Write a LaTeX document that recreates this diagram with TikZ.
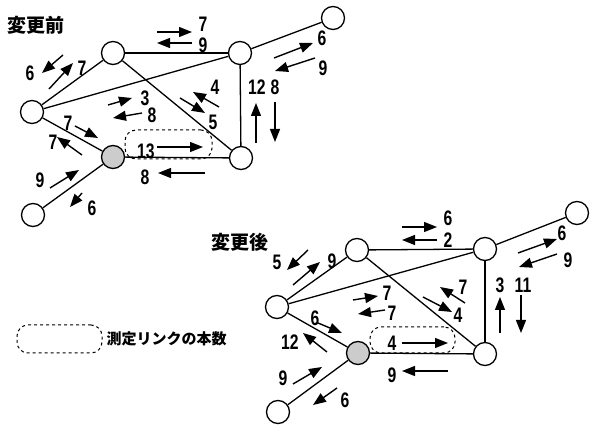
\documentclass[tikz,border=0pt]{standalone}
\usepackage{fontspec}
\setmainfont{Liberation Sans}[FakeStretch=0.75]
\newfontfamily\jpfont{Noto Sans CJK JP}
\usetikzlibrary{arrows.meta,positioning}

\begin{document}
\begin{tikzpicture}[
    x=1pt, y=-1pt,
    station/.style={circle, draw, fill=white, line width=1.3pt, minimum size=23pt, inner sep=0pt},
    source/.style={station, fill=gray!40},
    link/.style={line width=1.3pt},
    flow/.style={-{Triangle[length=13pt,width=10pt]}, line width=1.4pt},
    num/.style={font=\fontsize{21}{21}\selectfont\bfseries, inner sep=0pt},
    title/.style={font=\fontsize{19}{19}\selectfont\jpfont\bfseries, inner sep=0pt},
    measbox/.style={draw, dashed, line width=1pt, rounded corners=11pt}
]
    \useasboundingbox (0,0) rectangle (590,427);

    % before the change
    \node (tbefore) [title] at (36,25) {変更前};

    \node (meas1) [measbox, minimum width=87pt, minimum height=29pt] at (168.5,144.5) {};

    \node (a1) [station] at (113,53) {};
    \node (b1) [station] at (240,53) {};
    \node (c1) [station] at (333,18) {};
    \node (d1) [station] at (32,112) {};
    \node (e1) [source] at (113,157) {};
    \node (f1) [station] at (241,158) {};
    \node (g1) [station] at (33,215) {};

    \draw [link] (a1) -- (b1);
    \draw [link] (a1) -- (d1);
    \draw [link] (a1) -- (f1);
    \draw [link] (d1) -- (b1);
    \draw [link] (d1) -- (e1);
    \draw [link] (e1) -- (f1);
    \draw [link] (e1) -- (g1);
    \draw [link] (b1) -- (c1);
    \draw [link] (b1) -- (f1);

    % link counts
    \draw [flow] (157,32) -- (192,32);   \node (n1) [num] at (203,24) {7};
    \draw [flow] (192,43) -- (157,43);   \node (n2) [num] at (203,45) {9};
    \draw [flow] (63,55) -- (42,73);     \node (n3) [num] at (30,73) {6};
    \draw [flow] (49,89) -- (73,63);     \node (n4) [num] at (82,68) {7};
    \draw [flow] (108,105) -- (132,98);  \node (n5) [num] at (145,98) {3};
    \draw [flow] (142,113) -- (113,118); \node (n6) [num] at (152,115) {8};
    \draw [flow] (75,126) -- (98,138);   \node (n7) [num] at (68,123) {7};
    \draw [flow] (82,155) -- (57,137);   \node (n8) [num] at (53,142) {7};
    \draw [flow] (157,147) -- (203,147); \node (n9) [num] at (146,151) {13};
    \draw [flow] (205,173) -- (158,173); \node (n10) [num] at (145,177) {8};
    \draw [flow] (50,188) -- (79,170);   \node (n11) [num] at (40,180) {9};
    \draw [flow] (82,193) -- (70,207);   \node (n12) [num] at (92,208) {6};
    \draw [flow] (219,107) -- (193,92);  \node (n13) [num] at (215,87) {4};
    \draw [flow] (180,98) -- (205,113);  \node (n14) [num] at (213,122) {5};
    \draw [flow] (256,143) -- (256,103); \node (n15) [num] at (257,87) {12};
    \draw [flow] (275,102) -- (275,142); \node (n16) [num] at (275,87) {8};
    \draw [flow] (274,58) -- (313,43);   \node (n17) [num] at (322,38) {6};
    \draw [flow] (315,58) -- (275,71);   \node (n18) [num] at (323,68) {9};

    % after the change
    \node (tafter) [title] at (240,242) {変更後};

    \node (meas2) [measbox, minimum width=85pt, minimum height=26pt] at (412.5,340) {};

    \node (a2) [station] at (357,250) {};
    \node (b2) [station] at (485,249) {};
    \node (c2) [station] at (577,213) {};
    \node (d2) [station] at (277,307) {};
    \node (e2) [source] at (358,353) {};
    \node (f2) [station] at (485,354) {};
    \node (g2) [station] at (278,412) {};

    \draw [link] (a2) -- (b2);
    \draw [link] (a2) -- (d2);
    \draw [link] (a2) -- (f2);
    \draw [link] (d2) -- (b2);
    \draw [link] (d2) -- (e2);
    \draw [link] (e2) -- (f2);
    \draw [link] (e2) -- (g2);
    \draw [link] (b2) -- (c2);
    \draw [link] (b2) -- (f2);

    % link counts
    \draw [flow] (402,227) -- (437,227); \node (m1) [num] at (448,218) {6};
    \draw [flow] (437,240) -- (402,240); \node (m2) [num] at (448,240) {2};
    \draw [flow] (308,250) -- (287,270); \node (m3) [num] at (277,262) {5};
    \draw [flow] (293,285) -- (320,262); \node (m4) [num] at (332,261) {9};
    \draw [flow] (353,300) -- (378,296); \node (m5) [num] at (387,293) {7};
    \draw [flow] (385,310) -- (358,314); \node (m6) [num] at (392,313) {7};
    \draw [flow] (318,323) -- (342,333); \node (m7) [num] at (315,318) {6};
    \draw [flow] (327,352) -- (303,333); \node (m8) [num] at (290,342) {12};
    \draw [flow] (402,343) -- (448,343); \node (m9) [num] at (392,343) {4};
    \draw [flow] (448,371) -- (402,371); \node (m10) [num] at (392,375) {9};
    \draw [flow] (293,384) -- (322,367); \node (m11) [num] at (283,378) {9};
    \draw [flow] (337,388) -- (313,405); \node (m12) [num] at (345,400) {6};
    \draw [flow] (465,303) -- (440,287); \node (m13) [num] at (463,287) {7};
    \draw [flow] (423,297) -- (452,312); \node (m14) [num] at (458,315) {4};
    \draw [flow] (500,333) -- (500,297); \node (m15) [num] at (500,285) {3};
    \draw [flow] (521,295) -- (521,333); \node (m16) [num] at (523,285) {11};
    \draw [flow] (518,253) -- (557,239); \node (m17) [num] at (562,233) {6};
    \draw [flow] (557,254) -- (519,267); \node (m18) [num] at (568,260) {9};

    % legend
    \node (legbox) [measbox, minimum width=85pt, minimum height=28pt] at (59.5,339) {};
    \node (legtext) [right=4pt of legbox, inner sep=0pt, font=\fontsize{15}{15}\selectfont\jpfont\bfseries] {測定リンクの本数};

\end{tikzpicture}
\end{document}
